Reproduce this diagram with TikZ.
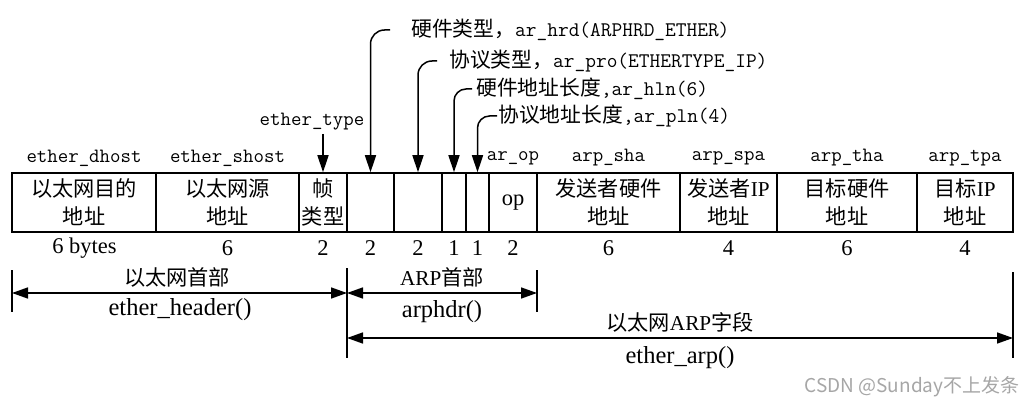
\documentclass[tikz,border=0pt]{standalone}
\usepackage{fontspec}
\setmainfont{Liberation Serif}
\newfontfamily\cjkf{Noto Sans CJK SC}
\usetikzlibrary{arrows.meta}
\newcommand\zh[1]{{\cjkf #1}}
\begin{document}
\begin{tikzpicture}[x=1pt,y=-1pt,
  field/.style={draw, line width=1.5pt, minimum height=59pt, inner sep=0pt, align=center,
    font=\fontsize{21.2}{28}\selectfont},
  tlabel/.style={inner sep=0pt, font=\ttfamily\fontsize{20.3}{24}\selectfont},
  num/.style={inner sep=0pt, font=\fontsize{22.5}{24}\selectfont},
  lead/.style={anchor=west, inner sep=0pt, font=\fontsize{20.8}{24}\selectfont},
  arr/.style={line width=1.5pt, -{Triangle[length=17pt,width=11pt]}},
  dim/.style={line width=1.5pt, {Triangle[length=16pt,width=11pt]}-{Triangle[length=16pt,width=11pt]}},
  tick/.style={line width=1.5pt},
  captext/.style={inner sep=0pt, font=\fontsize{21.2}{24}\selectfont},
  fntext/.style={inner sep=0pt, font=\fontsize{24.5}{26}\selectfont}
]
\useasboundingbox (0,0) rectangle (1024,403);

% fields
\node[field, minimum width=144pt] (dhost) at (84,202.5) {\zh{以太网目的}\\\zh{地址}};
\node[field, minimum width=143pt] (shost) at (227.5,202.5) {\zh{以太网源}\\\zh{地址}};
\node[field, minimum width=48pt] (type) at (323,202.5) {\zh{帧}\\\zh{类型}};
\node[field, minimum width=47pt] (hrd) at (370.5,202.5) {};
\node[field, minimum width=48pt] (pro) at (418,202.5) {};
\node[field, minimum width=24pt] (hln) at (454,202.5) {};
\node[field, minimum width=23pt] (pln) at (477.5,202.5) {};
\node[field, minimum width=48pt, font=\fontsize{22.5}{28}\selectfont] (op) at (513,202.5) {op};
\node[field, minimum width=143pt] (sha) at (608.5,202.5) {\zh{发送者硬件}\\\zh{地址}};
\node[field, minimum width=97pt] (spa) at (728.5,202.5) {\zh{发送者}IP\\\zh{地址}};
\node[field, minimum width=140pt] (tha) at (847,202.5) {\zh{目标硬件}\\\zh{地址}};
\node[field, minimum width=96pt] (tpa) at (965,202.5) {\zh{目标}IP\\\zh{地址}};

% top labels
\node[tlabel] (ldhost) at (84,158) {ether\_dhost};
\node[tlabel] (lshost) at (227.5,158) {ether\_shost};
\node[tlabel] (lop) at (513,158) {ar\_op};
\node[tlabel] (lsha) at (608.5,158) {arp\_sha};
\node[tlabel] (lspa) at (728.5,158) {arp\_spa};
\node[tlabel] (ltha) at (847,158) {arp\_tha};
\node[tlabel] (ltpa) at (965,158) {arp\_tpa};
\node[tlabel] (ltype) at (312,122) {ether\_type};

% byte counts
\node[num] (n1) at (84.5,248) {6 bytes};
\node[num] (n2) at (227.5,248) {6};
\node[num] (n3) at (323,248) {2};
\node[num] (n4) at (370.5,248) {2};
\node[num] (n5) at (418,248) {2};
\node[num] (n6) at (454,248) {1};
\node[num] (n7) at (477.5,248) {1};
\node[num] (n8) at (513,248) {2};
\node[num] (n9) at (608.5,248) {6};
\node[num] (n10) at (728.5,248) {4};
\node[num] (n11) at (847,248) {6};
\node[num] (n12) at (965,248) {4};

% leader texts
\node[lead] (thrd) at (411,30) {\zh{硬件类型，}{\ttfamily ar\_hrd(ARPHRD\_ETHER)}};
\node[lead] (tpro) at (449,61) {\zh{协议类型，}{\ttfamily ar\_pro(ETHERTYPE\_IP)}};
\node[lead] (thln) at (476,89) {\zh{硬件地址长度}{\ttfamily ,ar\_hln(6)}};
\node[lead] (tpln) at (498,116) {\zh{协议地址长度}{\ttfamily ,ar\_pln(4)}};

\coordinate (shrd) at (390,30);
\coordinate (spro) at (437,61);
\coordinate (shln) at (472,89);
\coordinate (spln) at (497,116);
\coordinate (stype) at (323,134);

\draw[arr] (stype) -- (type.north);
\draw[arr, rounded corners=14pt] (shrd) -| (hrd.north);
\draw[arr, rounded corners=14pt] (spro) -| (pro.north);
\draw[arr, rounded corners=12pt] (shln) -| (hln.north);
\draw[arr, rounded corners=12pt] (spln) -| (pln.north);

% dimension lines
\coordinate (a1) at (12,293);
\coordinate (a2) at (347,293);
\coordinate (a3) at (537,293);
\coordinate (b1) at (347,338);
\coordinate (b2) at (1013,338);

\draw[tick] ([yshift=23pt]a1) -- ([yshift=-19pt]a1);
\draw[tick] ([yshift=25pt]a2) -- ([yshift=-65pt]a2);
\draw[tick] ([yshift=23pt]a3) -- ([yshift=-19pt]a3);
\draw[tick] ([yshift=66pt]b2) -- ([yshift=-20pt]b2);

\draw[dim] (a1) -- (a2);
\draw[dim] (a2) -- (a3);
\draw[dim] (b1) -- (b2);

\node[captext] (c1) at (177,277) {\zh{以太网首部}};
\node[fntext] (f1) at (180,310) {ether\_header()};
\node[captext] (c2) at (442,277) {ARP\zh{首部}};
\node[fntext] (f2) at (442,312) {arphdr()};
\node[captext] (c3) at (680,322) {\zh{以太网}ARP\zh{字段}};
\node[fntext] (f3) at (680,358) {ether\_arp()};

% watermark
\node[inner sep=0pt, text=black!35, font=\cjkf\fontsize{19}{22}\selectfont] (wm) at (912,387) {CSDN @Sunday不上发条};
\end{tikzpicture}
\end{document}
